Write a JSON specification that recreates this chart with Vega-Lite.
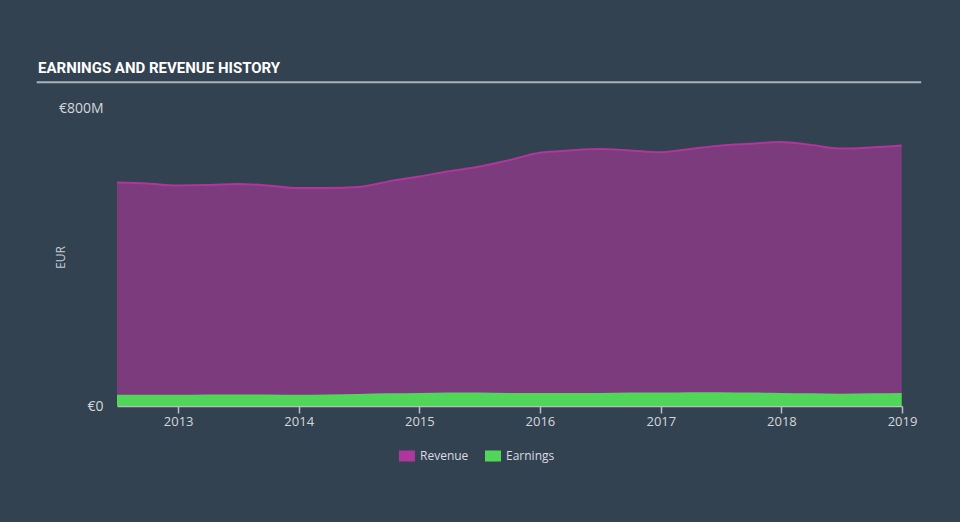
{
  "$schema": "https://vega.github.io/schema/vega-lite/v6.json",
  "autosize": {"type": "none"},
  "padding": {"left": 117, "top": 108, "right": 58, "bottom": 116},
  "width": 785,
  "height": 298,
  "background": "#334251",
  "title": {
    "text": "EARNINGS AND REVENUE HISTORY",
    "anchor": "start",
    "frame": "group",
    "dx": -79,
    "offset": 5,
    "font": "Roboto",
    "fontSize": 15,
    "fontWeight": "bold",
    "color": "#ffffff"
  },
  "datasets": {
    "history": [
      {"date": "2012-06-30", "series": "Revenue", "value": 600},
      {"date": "2012-09-30", "series": "Revenue", "value": 597},
      {"date": "2012-12-31", "series": "Revenue", "value": 592},
      {"date": "2013-03-31", "series": "Revenue", "value": 593},
      {"date": "2013-06-30", "series": "Revenue", "value": 596},
      {"date": "2013-09-30", "series": "Revenue", "value": 592},
      {"date": "2013-12-31", "series": "Revenue", "value": 585},
      {"date": "2014-03-31", "series": "Revenue", "value": 585},
      {"date": "2014-06-30", "series": "Revenue", "value": 588},
      {"date": "2014-09-30", "series": "Revenue", "value": 603},
      {"date": "2014-12-31", "series": "Revenue", "value": 616},
      {"date": "2015-03-31", "series": "Revenue", "value": 630},
      {"date": "2015-06-30", "series": "Revenue", "value": 642},
      {"date": "2015-09-30", "series": "Revenue", "value": 660},
      {"date": "2015-12-31", "series": "Revenue", "value": 680},
      {"date": "2016-03-31", "series": "Revenue", "value": 686},
      {"date": "2016-06-30", "series": "Revenue", "value": 690},
      {"date": "2016-09-30", "series": "Revenue", "value": 686},
      {"date": "2016-12-31", "series": "Revenue", "value": 681},
      {"date": "2017-03-31", "series": "Revenue", "value": 690},
      {"date": "2017-06-30", "series": "Revenue", "value": 699},
      {"date": "2017-09-30", "series": "Revenue", "value": 704},
      {"date": "2017-12-31", "series": "Revenue", "value": 709},
      {"date": "2018-03-31", "series": "Revenue", "value": 701},
      {"date": "2018-06-30", "series": "Revenue", "value": 691},
      {"date": "2018-09-30", "series": "Revenue", "value": 694},
      {"date": "2018-12-31", "series": "Revenue", "value": 699},
      {"date": "2012-06-30", "series": "Earnings", "value": 30},
      {"date": "2012-09-30", "series": "Earnings", "value": 30},
      {"date": "2012-12-31", "series": "Earnings", "value": 30},
      {"date": "2013-03-31", "series": "Earnings", "value": 31},
      {"date": "2013-06-30", "series": "Earnings", "value": 31},
      {"date": "2013-09-30", "series": "Earnings", "value": 31},
      {"date": "2013-12-31", "series": "Earnings", "value": 30},
      {"date": "2014-03-31", "series": "Earnings", "value": 31},
      {"date": "2014-06-30", "series": "Earnings", "value": 32},
      {"date": "2014-09-30", "series": "Earnings", "value": 34},
      {"date": "2014-12-31", "series": "Earnings", "value": 35},
      {"date": "2015-03-31", "series": "Earnings", "value": 36},
      {"date": "2015-06-30", "series": "Earnings", "value": 36},
      {"date": "2015-09-30", "series": "Earnings", "value": 35},
      {"date": "2015-12-31", "series": "Earnings", "value": 35},
      {"date": "2016-03-31", "series": "Earnings", "value": 35},
      {"date": "2016-06-30", "series": "Earnings", "value": 35},
      {"date": "2016-09-30", "series": "Earnings", "value": 36},
      {"date": "2016-12-31", "series": "Earnings", "value": 36},
      {"date": "2017-03-31", "series": "Earnings", "value": 37},
      {"date": "2017-06-30", "series": "Earnings", "value": 37},
      {"date": "2017-09-30", "series": "Earnings", "value": 36},
      {"date": "2017-12-31", "series": "Earnings", "value": 35},
      {"date": "2018-03-31", "series": "Earnings", "value": 34},
      {"date": "2018-06-30", "series": "Earnings", "value": 33},
      {"date": "2018-09-30", "series": "Earnings", "value": 34},
      {"date": "2018-12-31", "series": "Earnings", "value": 35}
    ],
    "divider": [
      {"start": "2011-10-31", "end": "2019-02-28", "level": 869}
    ]
  },
  "data": {"name": "history"},
  "encoding": {
    "x": {
      "field": "date",
      "type": "temporal",
      "title": null,
      "scale": {"domain": ["2012-06-30", "2019-01-01"]},
      "axis": {
        "format": "%Y",
        "tickCount": {"interval": "year", "step": 1},
        "grid": false,
        "domainColor": "#b7bec6",
        "domainWidth": 1.5,
        "tickColor": "#b7bec6",
        "tickWidth": 1.5,
        "tickSize": 7,
        "labelPadding": 2,
        "labelColor": "#d3d7db",
        "labelFont": "Open Sans",
        "labelFontSize": 13,
        "labelFlush": false
      }
    },
    "y": {
      "field": "value",
      "type": "quantitative",
      "title": "EUR",
      "scale": {"domain": [0, 800]},
      "axis": {
        "values": [0, 800],
        "labelExpr": "datum.value == 0 ? '€0' : '€' + datum.value + 'M'",
        "grid": false,
        "domain": false,
        "ticks": false,
        "labelPadding": 14,
        "labelColor": "#d3d7db",
        "labelFont": "Open Sans",
        "labelFontSize": 14,
        "titleColor": "#c8ccd0",
        "titleFont": "Open Sans",
        "titleFontSize": 12,
        "titleFontWeight": "normal",
        "titleX": -57,
        "titleY": 149,
        "titleAngle": -90,
        "titleBaseline": "middle",
        "titleAlign": "center"
      }
    }
  },
  "layer": [
    {
      "transform": [{"filter": "datum.series == 'Revenue'"}],
      "mark": {"type": "area", "interpolate": "monotone", "fillOpacity": 0.6, "line": {"strokeWidth": 2}},
      "encoding": {
        "color": {
          "field": "series",
          "type": "nominal",
          "title": null,
          "scale": {"domain": ["Revenue", "Earnings"], "range": ["#ae379b", "#52d65a"]},
          "legend": {
            "orient": "none",
            "legendX": 282,
            "legendY": 340,
            "direction": "horizontal",
            "symbolType": "M-1,-0.69H1V0.69H-1Z",
            "symbolSize": 256,
            "symbolOpacity": 1,
            "symbolStrokeWidth": 0,
            "labelColor": "#d8dce0",
            "labelFont": "Open Sans",
            "labelFontSize": 12,
            "labelOffset": 5,
            "columnPadding": 16
          }
        }
      }
    },
    {
      "transform": [{"filter": "datum.series == 'Earnings'"}],
      "mark": {"type": "area", "interpolate": "monotone", "fillOpacity": 1},
      "encoding": {
        "color": {"field": "series", "type": "nominal"}
      }
    },
    {
      "data": {"name": "divider"},
      "mark": {"type": "rule", "color": "#aab2bb", "strokeWidth": 2, "clip": false},
      "encoding": {
        "x": {"field": "start", "type": "temporal"},
        "x2": {"field": "end"},
        "y": {"field": "level", "type": "quantitative"}
      }
    }
  ],
  "config": {
    "view": {"stroke": null}
  }
}
